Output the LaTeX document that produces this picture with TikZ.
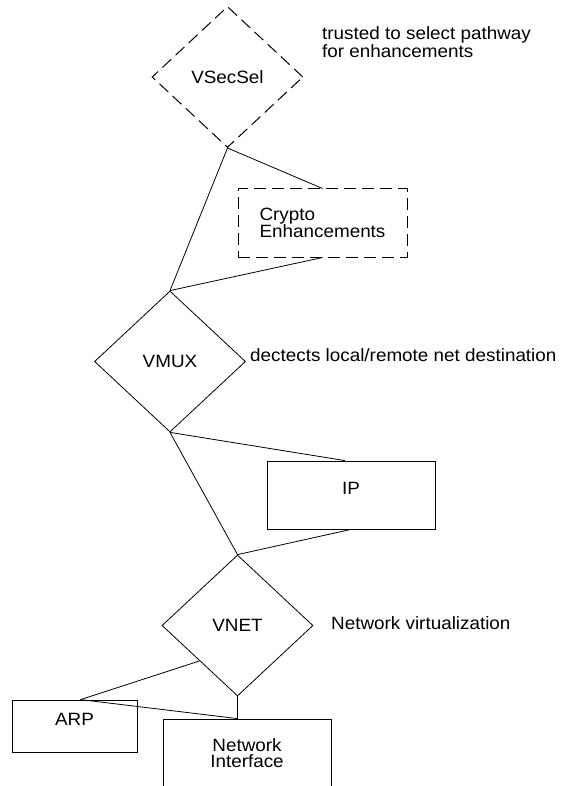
\documentclass[tikz,border=0pt]{standalone}
\usepackage{fontspec}
\setmainfont{Liberation Sans}[FakeStretch=1.06]
\usetikzlibrary{shapes.geometric}
\newcommand{\diagfont}{\fontsize{17.8pt}{16.5pt}\selectfont}
\newcommand{\thinline}{0.8pt}
\tikzset{
    switchnode/.style={draw,diamond,aspect=1,inner sep=0pt,
        minimum width=151pt,minimum height=141pt,line width=\thinline},
    layerbox/.style={draw,rectangle,inner sep=0pt,line width=\thinline},
    raisedtext/.style={text height=12.5pt,text depth=14.5pt},
    trusted/.style={line width=1pt,dash pattern=on 12pt off 6pt},
    notetext/.style={anchor=west,align=left,inner sep=0pt},
    link/.style={line width=\thinline}
}

\begin{document}
\begin{tikzpicture}[x=1pt,y=-1pt,every node/.style={font=\diagfont}]

\useasboundingbox (0,0) rectangle (561,786);
\clip (0,0) rectangle (561,786);

% selector and crypto path
\node [switchnode,trusted] (vsecsel) at (227.5,77) {VSecSel};
\node [layerbox,trusted,align=left,minimum width=169pt,minimum height=68pt]
    (crypto) at (322.5,223) {Crypto\\Enhancements};

% multiplexer and ip
\node [switchnode] (vmux) at (170,361.5) {VMUX};
\node [layerbox,raisedtext,minimum width=168pt,minimum height=68pt]
    (ip) at (351,495) {IP};

% network virtualization
\node [switchnode] (vnet) at (237.5,625.5) {VNET};
\node [layerbox,raisedtext,minimum width=125pt,minimum height=52pt]
    (arp) at (74.5,726) {ARP};
\node [layerbox,align=center,minimum width=168pt,minimum height=68pt]
    (netif) at (247,753) {Network\\Interface};

% connections
\draw [link] (vsecsel.south) -- (crypto.north);
\draw [link] (vsecsel.south) -- (vmux.north);
\draw [link] (crypto.south) -- (vmux.north);
\draw [link] (vmux.south) -- ([xshift=-6pt]ip.north);
\draw [link] (vmux.south) -- (vnet.north);
\draw [link] (ip.south) -- (vnet.north);
\draw [link] (vnet.south west) -- ([xshift=6pt]arp.north);
\draw [link] ([xshift=6pt]arp.north) -- (vnet.south |- netif.north);
\draw [link] (vnet.south) -- (vnet.south |- netif.north);

% notes
\node [notetext] (selnote) at (322,42) {trusted to select pathway\\for enhancements};
\node [notetext] (muxnote) at (250,355) {dectects local/remote net destination};
\node [notetext] (netnote) at (331,623.5) {Network virtualization};

\end{tikzpicture}
\end{document}
